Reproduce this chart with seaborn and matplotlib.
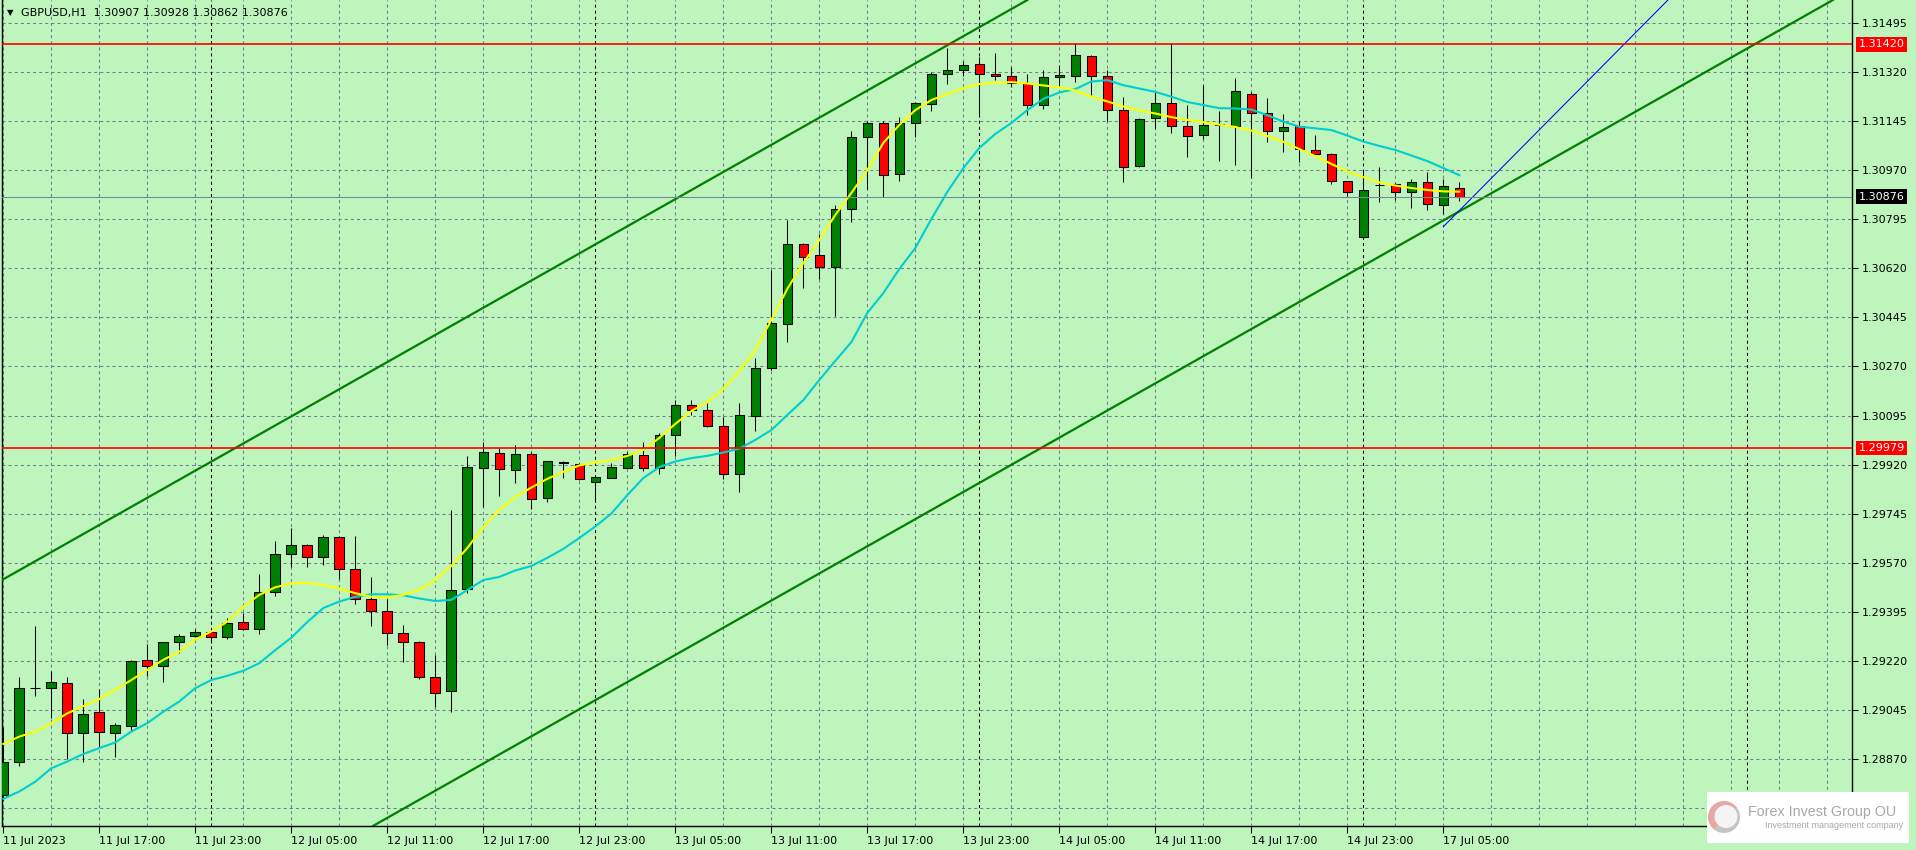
import numpy as np
import pandas as pd
import seaborn as sns
import matplotlib.pyplot as plt
from matplotlib.patches import Wedge, Circle
from matplotlib.transforms import blended_transform_factory

plt.rcParams['font.family'] = ['DejaVu Sans']
plt.rcParams['lines.scale_dashes'] = False

# GBPUSD H1, 11 Jul 11:00 -> 17 Jul 06:00 (bar index 0..91)
opens = [1.28741, 1.28860, 1.29121, 1.29122, 1.29139, 1.28961, 1.29036, 1.28961, 1.28988, 1.29222,
         1.29200, 1.29288, 1.29307, 1.29321, 1.29304, 1.29357, 1.29332, 1.29464, 1.29600, 1.29632,
         1.29589, 1.29660, 1.29546, 1.29439, 1.29396, 1.29318, 1.29286, 1.29161, 1.29112, 1.29475,
         1.29909, 1.29960, 1.29900, 1.29957, 1.29800, 1.29928, 1.29921, 1.29857, 1.29873, 1.29909,
         1.29953, 1.29907, 1.30025, 1.30133, 1.30115, 1.30058, 1.29885, 1.30093, 1.30264, 1.30421,
         1.30706, 1.30667, 1.30624, 1.30831, 1.31088, 1.31138, 1.30956, 1.31138, 1.31206, 1.31313,
         1.31327, 1.31348, 1.31313, 1.31306, 1.31281, 1.31202, 1.31302, 1.31306, 1.31377, 1.31306,
         1.31184, 1.30984, 1.31156, 1.31209, 1.31127, 1.31095, 1.31134, 1.31127, 1.31241, 1.31174,
         1.31109, 1.31127, 1.31041, 1.31027, 1.30931, 1.30731, 1.30917, 1.30920, 1.30892, 1.30927,
         1.30845, 1.30907]
highs = [1.28984, 1.29161, 1.29344, 1.29183, 1.29161, 1.29083, 1.29119, 1.28997, 1.29223, 1.29280,
         1.29288, 1.29314, 1.29332, 1.29333, 1.29372, 1.29390, 1.29528, 1.29647, 1.29692, 1.29636,
         1.29668, 1.29665, 1.29664, 1.29518, 1.29439, 1.29348, 1.29290, 1.29240, 1.29758, 1.29951,
         1.30002, 1.29978, 1.29990, 1.29964, 1.29933, 1.29933, 1.29924, 1.29876, 1.29925, 1.29964,
         1.29999, 1.30032, 1.30150, 1.30152, 1.30140, 1.30089, 1.30140, 1.30299, 1.30614, 1.30793,
         1.30711, 1.30742, 1.30846, 1.31110, 1.31146, 1.31146, 1.31159, 1.31214, 1.31320, 1.31408,
         1.31360, 1.31375, 1.31388, 1.31338, 1.31313, 1.31327, 1.31345, 1.31423, 1.31382, 1.31327,
         1.31231, 1.31156, 1.31248, 1.31423, 1.31202, 1.31273, 1.31181, 1.31298, 1.31250, 1.31227,
         1.31170, 1.31145, 1.31095, 1.31032, 1.30932, 1.30970, 1.30981, 1.30924, 1.30938, 1.30963,
         1.30938, 1.30928]
lows = [1.28723, 1.28845, 1.29095, 1.29017, 1.28869, 1.28858, 1.28913, 1.28878, 1.28970, 1.29166,
        1.29145, 1.29247, 1.29304, 1.29282, 1.29298, 1.29330, 1.29314, 1.29452, 1.29556, 1.29556,
        1.29561, 1.29511, 1.29421, 1.29345, 1.29276, 1.29217, 1.29155, 1.29056, 1.29036, 1.29461,
        1.29768, 1.29809, 1.29855, 1.29760, 1.29785, 1.29871, 1.29865, 1.29785, 1.29871, 1.29908,
        1.29898, 1.29885, 1.29952, 1.30097, 1.30053, 1.29869, 1.29823, 1.30041, 1.30258, 1.30358,
        1.30549, 1.30582, 1.30451, 1.30787, 1.30903, 1.30876, 1.30933, 1.31088, 1.31183, 1.31277,
        1.31307, 1.31167, 1.31292, 1.31266, 1.31166, 1.31189, 1.31266, 1.31284, 1.31238, 1.31145,
        1.30929, 1.30982, 1.31116, 1.31102, 1.31016, 1.31081, 1.31002, 1.30988, 1.30942, 1.31070,
        1.31034, 1.30999, 1.31025, 1.30920, 1.30877, 1.30728, 1.30856, 1.30863, 1.30834, 1.30827,
        1.30813, 1.30862]
closes = [1.28859, 1.29122, 1.29122, 1.29143, 1.28961, 1.29029, 1.28965, 1.28990, 1.29219, 1.29200,
          1.29286, 1.29307, 1.29321, 1.29304, 1.29354, 1.29332, 1.29464, 1.29600, 1.29632, 1.29589,
          1.29660, 1.29546, 1.29439, 1.29396, 1.29318, 1.29286, 1.29161, 1.29104, 1.29472, 1.29910,
          1.29964, 1.29903, 1.29957, 1.29796, 1.29932, 1.29926, 1.29867, 1.29875, 1.29910, 1.29957,
          1.29909, 1.30025, 1.30133, 1.30114, 1.30059, 1.29885, 1.30097, 1.30264, 1.30424, 1.30706,
          1.30662, 1.30624, 1.30831, 1.31088, 1.31138, 1.30952, 1.31138, 1.31209, 1.31313, 1.31327,
          1.31345, 1.31313, 1.31306, 1.31281, 1.31202, 1.31302, 1.31309, 1.31380, 1.31306, 1.31184,
          1.30981, 1.31152, 1.31209, 1.31127, 1.31091, 1.31131, 1.31132, 1.31252, 1.31174, 1.31109,
          1.31124, 1.31045, 1.31027, 1.30931, 1.30892, 1.30899, 1.30916, 1.30892, 1.30927, 1.30849,
          1.30913, 1.30876]

# moving averages as drawn on the chart (yellow fast, turquoise slow)
ma_fast = [1.28923, 1.28949, 1.28967, 1.28997, 1.29032, 1.29058, 1.29083, 1.29116, 1.29151, 1.29187,
           1.29223, 1.29252, 1.29296, 1.29324, 1.29359, 1.29413, 1.29455, 1.29482, 1.29496, 1.29498,
           1.29490, 1.29478, 1.29461, 1.29448, 1.29446, 1.29455, 1.29472, 1.29508, 1.29558, 1.29622,
           1.29697, 1.29758, 1.29804, 1.29838, 1.29869, 1.29894, 1.29917, 1.29927, 1.29936, 1.29951,
           1.29972, 1.30015, 1.30065, 1.30111, 1.30143, 1.30190, 1.30254, 1.30329, 1.30436, 1.30547,
           1.30639, 1.30721, 1.30811, 1.30889, 1.30971, 1.31068, 1.31132, 1.31185, 1.31221, 1.31242,
           1.31264, 1.31278, 1.31283, 1.31285, 1.31280, 1.31273, 1.31267, 1.31255, 1.31233, 1.31216,
           1.31198, 1.31184, 1.31173, 1.31160, 1.31150, 1.31142, 1.31133, 1.31125, 1.31112, 1.31092,
           1.31072, 1.31046, 1.31021, 1.30993, 1.30966, 1.30946, 1.30927, 1.30916, 1.30907, 1.30900,
           1.30895, 1.30894]
ma_slow = [1.28727, 1.28753, 1.28788, 1.28836, 1.28860, 1.28887, 1.28908, 1.28928, 1.28967, 1.28997,
           1.29038, 1.29074, 1.29122, 1.29151, 1.29166, 1.29184, 1.29211, 1.29258, 1.29302, 1.29358,
           1.29408, 1.29431, 1.29448, 1.29457, 1.29457, 1.29453, 1.29442, 1.29433, 1.29437, 1.29472,
           1.29508, 1.29519, 1.29542, 1.29558, 1.29587, 1.29619, 1.29658, 1.29699, 1.29745, 1.29811,
           1.29872, 1.29911, 1.29931, 1.29943, 1.29951, 1.29963, 1.29977, 1.30008, 1.30043, 1.30097,
           1.30150, 1.30222, 1.30290, 1.30357, 1.30461, 1.30532, 1.30618, 1.30693, 1.30796, 1.30893,
           1.30978, 1.31050, 1.31100, 1.31139, 1.31185, 1.31225, 1.31248, 1.31260, 1.31287, 1.31292,
           1.31274, 1.31262, 1.31250, 1.31233, 1.31214, 1.31203, 1.31192, 1.31191, 1.31187, 1.31167,
           1.31144, 1.31126, 1.31120, 1.31114, 1.31094, 1.31073, 1.31057, 1.31043, 1.31023, 1.31003,
           1.30978, 1.30953]

# drawn objects: (bar, price) anchors
chan_low = [(23.1, 1.28630), (99.8, 1.31108)]
chan_high = [(-0.08, 1.29508), (52.3, 1.31200)]
blue_ray = [(90.0, 1.30769), (99.3, 1.31305)]
levels = [1.31420, 1.29979]
bid = 1.30876

# 1.28695 only has a grid line, its label sits under the logo
price_ticks = [1.28695, 1.28870, 1.29045, 1.29220, 1.29395, 1.29570, 1.29745, 1.29920, 1.30095,
               1.30270, 1.30445, 1.30620, 1.30795, 1.30970, 1.31145, 1.31320, 1.31495]
label_bars = [0, 6, 12, 18, 24, 30, 36, 42, 48, 54, 60, 66, 72, 78, 84, 90]
x_labels = ['11 Jul 2023', '11 Jul 17:00', '11 Jul 23:00', '12 Jul 05:00', '12 Jul 11:00',
            '12 Jul 17:00', '12 Jul 23:00', '13 Jul 05:00', '13 Jul 11:00', '13 Jul 17:00',
            '13 Jul 23:00', '14 Jul 05:00', '14 Jul 11:00', '14 Jul 17:00', '14 Jul 23:00',
            '17 Jul 05:00']
day_breaks = [13, 37, 61, 85, 109]

df = pd.DataFrame({'bar': np.arange(len(opens)), 'open': opens, 'high': highs,
                   'low': lows, 'close': closes, 'ma_fast': ma_fast, 'ma_slow': ma_slow})

W, H = 1916, 850
BG = '#BDF5BD'
fig = plt.figure(figsize=(W / 100, H / 100), dpi=100)
fig.patch.set_facecolor(BG)
ax = fig.add_axes([2 / W, 24 / H, 1850 / W, 826 / H])
ax.set_facecolor(BG)
xmin, xmax = -0.08, 115.54
ymin, ymax = 1.28630, 1.31578
ax.set_xlim(xmin, xmax)
ax.set_ylim(ymin, ymax)

# grid + period separators
gkw = dict(color='#6E7F8E', lw=0.75, ls=(0, (2.2, 2.2)), zorder=1)
for b in range(0, 116, 3):
    ax.axvline(b, **gkw)
for p in price_ticks:
    ax.axhline(p, **gkw)
for b in day_breaks:
    ax.axvline(b, color='black', lw=0.75, ls=(0, (2.2, 2.2)), zorder=1.5)

# candles
up = df['close'] >= df['open']
ax.vlines(df['bar'], df['low'], df['high'], color='black', lw=0.75, zorder=3)
ax.bar(df['bar'], (df['close'] - df['open']).abs(), bottom=df[['open', 'close']].min(axis=1),
       width=0.6, color=np.where(up, '#008000', '#FF0000'), edgecolor='black',
       linewidth=0.75, zorder=4)

# moving averages
sns.lineplot(data=df, x='bar', y='ma_slow', color='#00CED1', linewidth=1.5, ax=ax, zorder=5)
sns.lineplot(data=df, x='bar', y='ma_fast', color='#FFFF00', linewidth=1.5, ax=ax, zorder=5)

# trend channel and ray
ax.axline(chan_low[0], chan_low[1], color='#008000', lw=1.6, zorder=6)
ax.axline(chan_high[0], chan_high[1], color='#008000', lw=1.6, zorder=6)
(b1, p1), (b2, p2) = blue_ray
slope = (p2 - p1) / (b2 - b1)
ax.plot([b1, xmax + 5], [p1, p1 + slope * (xmax + 5 - b1)], color='#0000FF', lw=0.75, zorder=6)

# horizontal levels
for lv in levels:
    ax.axhline(lv, color='#FF0000', lw=1.2, zorder=7)
ax.axhline(bid, color='#778899', lw=0.75, zorder=7)

# axes styling
for s in ['left', 'bottom', 'right']:
    ax.spines[s].set_color('black')
    ax.spines[s].set_linewidth(1.0)
ax.spines['top'].set_visible(False)
ax.set_xlabel('')
ax.set_ylabel('')
ax.yaxis.tick_right()
ax.set_yticks(price_ticks, labels=[''] + [f'{p:.5f}' for p in price_ticks[1:]])
ax.tick_params(axis='y', length=4, width=0.75, pad=3, labelsize=8, colors='black')
ax.set_xticks(label_bars, labels=x_labels)
for t in ax.get_xticklabels():
    t.set_horizontalalignment('left')
ax.tick_params(axis='x', length=5, width=0.75, pad=2, labelsize=8, colors='black')

tr = blended_transform_factory(ax.transAxes, ax.transData)
for lv in levels:
    ax.text(1.0036, lv, f'{lv:.5f}', transform=tr, ha='left', va='center', fontsize=8,
            color='white', clip_on=False, zorder=10,
            bbox=dict(boxstyle='square,pad=0.22', fc='#FF0000', ec='none'))
ax.text(1.0036, bid, f'{bid:.5f}', transform=tr, ha='left', va='center', fontsize=8,
        color='white', clip_on=False, zorder=10,
        bbox=dict(boxstyle='square,pad=0.22', fc='black', ec='none'))

# title
fig.text(7 / W, 1 - 13 / H, '▼', fontsize=6, va='center', ha='left', color='black')
fig.text(21 / W, 1 - 13 / H, f'GBPUSD,H1  {opens[-1]:.5f} {highs[-1]:.5f} {lows[-1]:.5f} {closes[-1]:.5f}',
         fontsize=8, va='center', ha='left', color='black')

# logo box
lax = fig.add_axes([1707 / W, 7 / H, 202 / W, 51 / H])
lax.set_xlim(0, 202)
lax.set_ylim(0, 51)
lax.set_facecolor('white')
lax.set_xticks([])
lax.set_yticks([])
for s in lax.spines.values():
    s.set_visible(False)
lax.add_patch(Wedge((17, 26), 16, 35, 235, fc='#E8A7A7', ec='none'))
lax.add_patch(Wedge((17, 26), 16, 235, 395, fc='#C4C4C4', ec='none'))
lax.add_patch(Circle((19, 26.5), 11.5, fc='#F4F4F4', ec='none'))
lax.text(41, 31, 'Forex Invest Group OU', fontsize=10.3, color='#A8A8A8', va='center', ha='left',
         family=['Liberation Sans', 'DejaVu Sans'])
lax.text(58, 17, 'Investment management company', fontsize=6.5, color='#A8A8A8', va='center',
         ha='left', family=['Liberation Sans', 'DejaVu Sans'])

fig.savefig('out.png', dpi=100, facecolor=BG)
